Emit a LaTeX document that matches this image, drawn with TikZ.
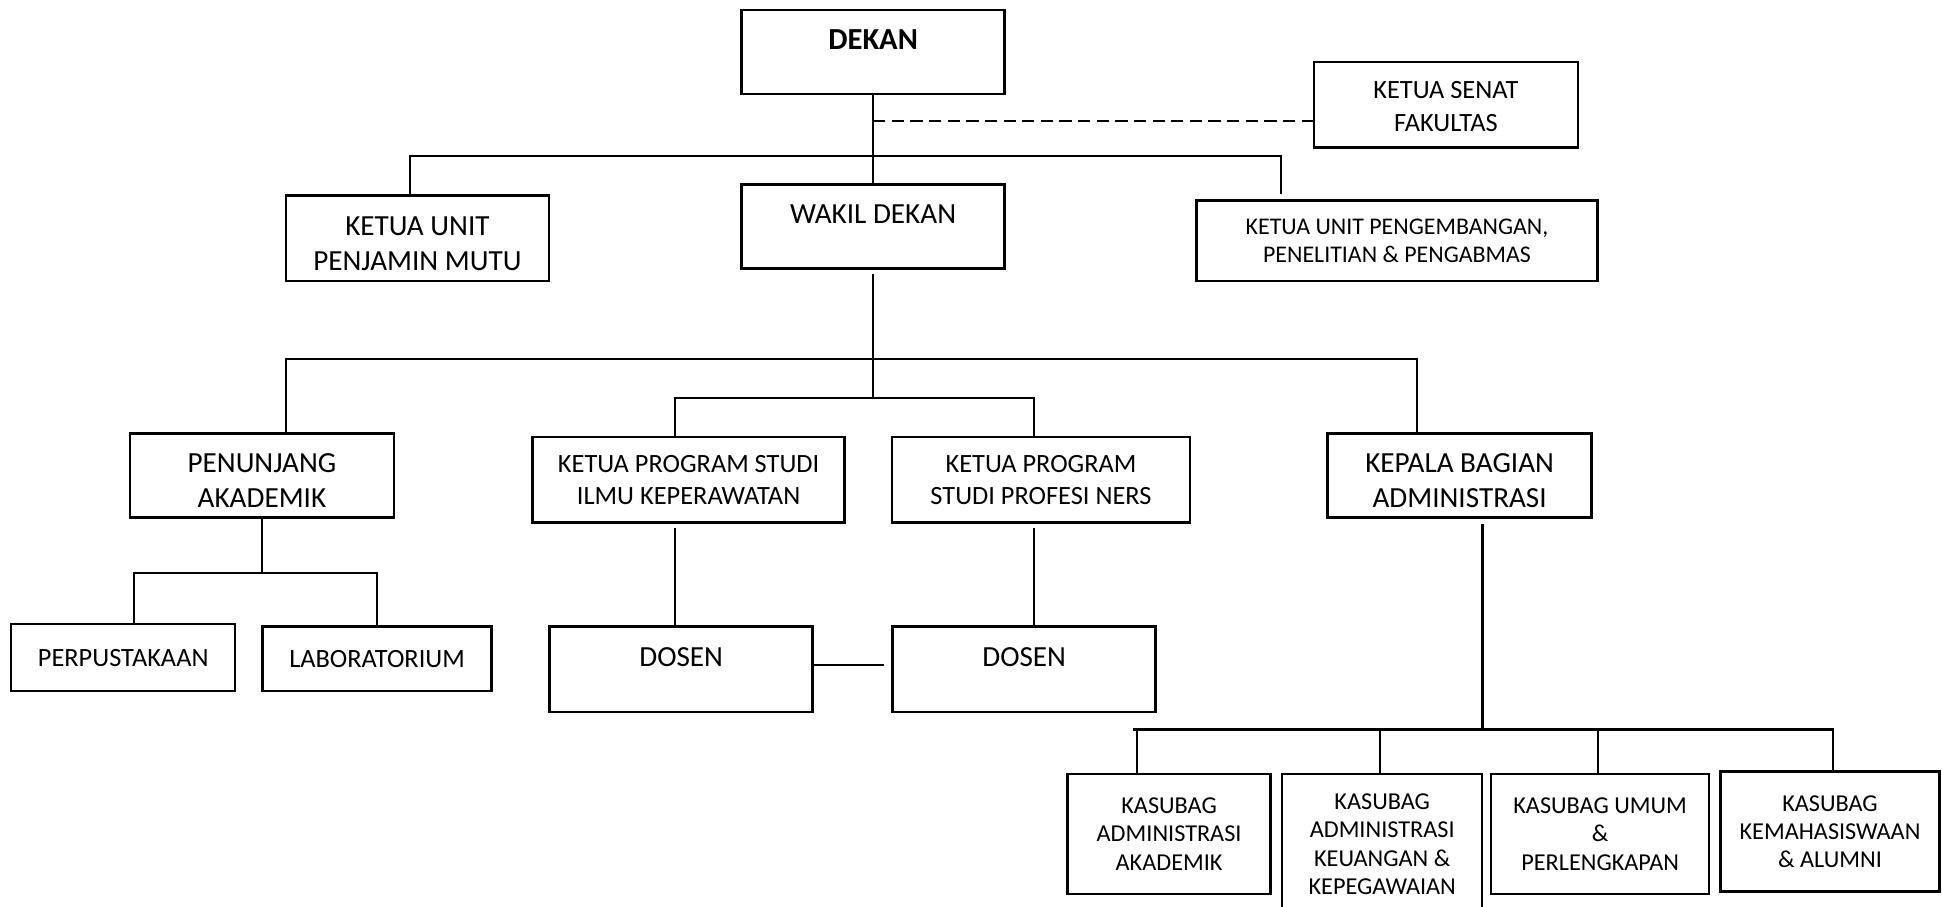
\documentclass[tikz,border=0pt]{standalone}
\usepackage{fontspec}
\setmainfont{Carlito}
\begin{document}
\begin{tikzpicture}[
    box/.style={draw, rectangle, line width=0.7pt, inner sep=0pt, align=center},
    bigtext/.style={font=\fontsize{8.3}{9.9}\selectfont},
    midtext/.style={font=\fontsize{7.5}{9.3}\selectfont},
    smalltext/.style={font=\fontsize{6.9}{8.1}\selectfont},
    uptext/.style={text depth=2.5mm},
    downtext/.style={text height=#1},
    link/.style={line width=0.6pt}]

    \useasboundingbox (0,0) rectangle (19.42,-9.07);

    % pimpinan
    \node[box, font=\fontsize{8.7}{10}\selectfont\bfseries, uptext, minimum width=2.63cm, minimum height=0.84cm] (dekan) at (8.731,-0.520) {DEKAN};
    \node[box, midtext, downtext=5.4mm, minimum width=2.64cm, minimum height=0.855cm] (senat) at (14.459,-1.046) {KETUA SENAT\\FAKULTAS};
    \node[box, bigtext, downtext=6.5mm, minimum width=2.63cm, minimum height=0.855cm] (pmutu) at (4.174,-2.384) {KETUA UNIT\\PENJAMIN MUTU};
    \node[box, bigtext, uptext, minimum width=2.63cm, minimum height=0.84cm] (wakil) at (8.731,-2.266) {WAKIL DEKAN};
    \node[box, font=\fontsize{6.8}{7.8}\selectfont, minimum width=4.01cm, minimum height=0.805cm] (peng) at (13.970,-2.409) {KETUA UNIT PENGEMBANGAN,\\PENELITIAN \& PENGABMAS};

    % tingkat kedua
    \node[box, bigtext, downtext=6.4mm, minimum width=2.64cm, minimum height=0.84cm] (penunjang) at (2.619,-4.756) {PENUNJANG\\AKADEMIK};
    \node[box, midtext, minimum width=3.12cm, minimum height=0.855cm] (kpsik) at (6.886,-4.799) {KETUA PROGRAM STUDI\\ILMU KEPERAWATAN};
    \node[box, midtext, minimum width=2.985cm, minimum height=0.855cm] (kpsners) at (10.410,-4.799) {KETUA PROGRAM\\STUDI PROFESI NERS};
    \node[box, bigtext, downtext=6.4mm, minimum width=2.64cm, minimum height=0.84cm] (kabag) at (14.596,-4.756) {KEPALA BAGIAN\\ADMINISTRASI};

    \node[box, midtext, minimum width=2.24cm, minimum height=0.67cm] (perpus) at (1.232,-6.577) {PERPUSTAKAAN};
    \node[box, midtext, minimum width=2.29cm, minimum height=0.645cm] (lab) at (3.771,-6.589) {LABORATORIUM};
    \node[box, bigtext, uptext, minimum width=2.63cm, minimum height=0.855cm] (dosen1) at (6.812,-6.694) {DOSEN};
    \node[box, bigtext, uptext, minimum width=2.63cm, minimum height=0.855cm] (dosen2) at (10.242,-6.694) {DOSEN};

    % kasubag
    \node[box, smalltext, minimum width=2.03cm, minimum height=1.2cm] (ksb1) at (11.691,-8.341) {KASUBAG\\ADMINISTRASI\\AKADEMIK};
    \node[box, smalltext, minimum width=2.0cm, minimum height=1.4cm] (ksb2) at (13.822,-8.44) {KASUBAG\\ADMINISTRASI\\KEUANGAN \&\\KEPEGAWAIAN};
    \node[box, smalltext, minimum width=2.18cm, minimum height=1.2cm] (ksb3) at (16.001,-8.341) {KASUBAG UMUM\\\&\\PERLENGKAPAN};
    \node[box, smalltext, minimum width=2.19cm, minimum height=1.2cm] (ksb4) at (18.300,-8.317) {KASUBAG\\KEMAHASISWAAN\\\& ALUMNI};

    % garis
    \coordinate (j1) at (8.731,-1.214);
    \coordinate (j2) at (8.731,-1.560);
    \coordinate (j3) at (8.731,-3.592);
    \coordinate (j4l) at (6.750,-3.976);
    \coordinate (j4r) at (10.341,-3.976);
    \coordinate (j5) at (2.619,-5.734);
    \coordinate (dl) at (8.843,-6.651);
    \coordinate (j6) at (14.825,-7.295);
    \coordinate (busl) at (11.332,-7.295);
    \coordinate (busr) at (18.342,-7.295);

    \draw[link] (dekan) -- (wakil);
    \draw[link, dash pattern=on 3.5pt off 1.8pt] (j1) -- (j1 -| senat.west);
    \draw[link] ([xshift=-0.75mm]pmutu.north) |- (j2) -| ([xshift=-11.64mm, yshift=0.5mm]peng.north);

    \draw[link, shorten <=0.4mm] (wakil) -- (j4l -| wakil.south);
    \draw[link] ([xshift=2.42mm]penunjang.north) |- (j3) -| ([xshift=-4.28mm]kabag.north);
    \draw[link] (j4l |- kpsik.north) -- (j4l) -- (j4r) -- (j4r |- kpsners.north);

    \draw[link] (penunjang) -- (j5);
    \draw[link] ([xshift=1.06mm]perpus.north) |- (j5) -| (lab.north);
    \draw[link, shorten <=0.4mm] (j4l |- kpsik.south) -- (j4l |- dosen1.north);
    \draw[link, shorten <=0.4mm] (j4r |- kpsners.south) -- (j4r |- dosen2.north);
    \draw[link] (dl -| dosen1.east) -- (dl);

    \draw[link, shorten <=0.5mm] (j6 |- kabag.south) -- (j6);
    \draw[link] (busl) -- (busr);
    \foreach \k/\sh in {ksb1/-3.22mm, ksb2/-0.25mm, ksb3/-0.24mm, ksb4/0.3mm}
        \draw[link] ([xshift=\sh]\k.north) |- (j6);
\end{tikzpicture}
\end{document}
